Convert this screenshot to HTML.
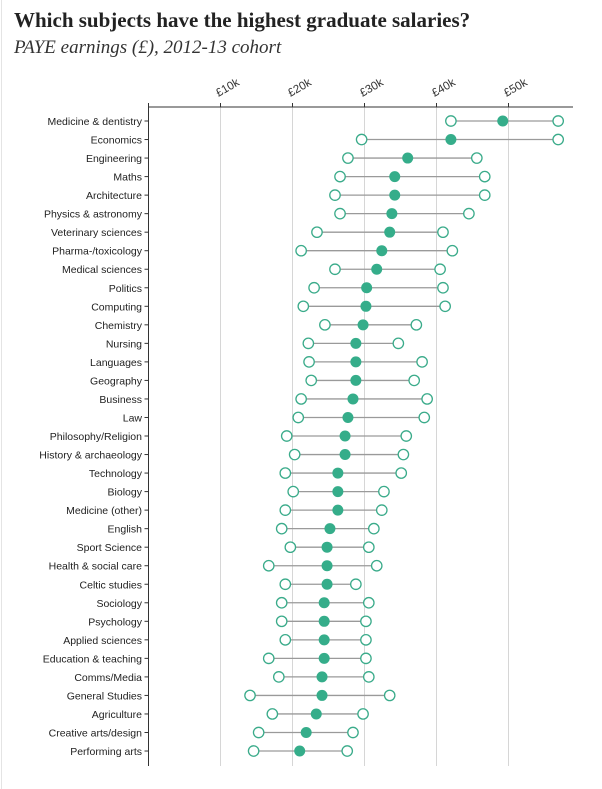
<!DOCTYPE html>
<html><head><meta charset="utf-8"><style>
body{margin:0;background:#fff;width:602px;height:789px;overflow:hidden;}
svg{display:block;}
</style></head><body>
<svg width="602" height="789" xmlns="http://www.w3.org/2000/svg">
<rect x="0" y="0" width="602" height="789" fill="#fff"/>
<line x1="1.5" y1="0" x2="1.5" y2="789" stroke="#e4e4e4"/>
<text x="14" y="27" font-family="Liberation Serif, serif" font-weight="bold" font-size="21" fill="#222">Which subjects have the highest graduate salaries?</text>
<text x="14" y="53" font-family="Liberation Serif, serif" font-style="italic" font-size="19" fill="#333">PAYE earnings (£), 2012-13 cohort</text>
<g id="plot"></g>
</svg>
<script>
const categories=["Medicine & dentistry","Economics","Engineering","Maths","Architecture","Physics & astronomy","Veterinary sciences","Pharma-/toxicology","Medical sciences","Politics","Computing","Chemistry","Nursing","Languages","Geography","Business","Law","Philosophy/Religion","History & archaeology","Technology","Biology","Medicine (other)","English","Sport Science","Health & social care","Celtic studies","Sociology","Psychology","Applied sciences","Education & teaching","Comms/Media","General Studies","Agriculture","Creative arts/design","Performing arts"];
const lowValues=[42,29.6,27.7,26.6,25.9,26.6,23.4,21.2,25.9,23,21.5,24.5,22.2,22.3,22.6,21.2,20.8,19.2,20.3,19,20.1,19,18.5,19.7,16.7,19,18.5,18.5,19,16.7,18.1,14.1,17.2,15.3,14.6];
const medianValues=[49.2,42,36,34.2,34.2,33.8,33.5,32.4,31.7,30.3,30.2,29.8,28.8,28.8,28.8,28.4,27.7,27.3,27.3,26.3,26.3,26.3,25.2,24.8,24.8,24.8,24.4,24.4,24.4,24.4,24.1,24.1,23.3,21.9,21];
const highValues=[56.9,56.9,45.6,46.7,46.7,44.5,40.9,42.2,40.5,40.9,41.2,37.2,34.7,38,36.9,38.7,38.3,35.8,35.4,35.1,32.7,32.4,31.3,30.6,31.7,28.8,30.6,30.2,30.2,30.2,30.6,33.5,29.8,28.4,27.6];
const tickValues=[10,20,30,40,50];
const tickLabels=["£10k","£20k","£30k","£40k","£50k"];

const NS="http://www.w3.org/2000/svg";
const g=document.getElementById('plot');
const x=v=>148.5+v*7.2;
const y=i=>121+i*18.53;
const axisY=107, bottomY=766;
function mk(t,a){const e=document.createElementNS(NS,t);for(const k in a)e.setAttribute(k,a[k]);g.appendChild(e);return e;}
tickValues.forEach((v,i)=>{
 const l=mk('line',{x1:x(v),x2:x(v),y1:axisY,y2:bottomY,stroke:'#d6d6d6','stroke-width':1});
 
 
 const t=mk('text',{x:x(v)-2,y:axisY-10,'font-family':'Liberation Sans, sans-serif','font-size':11.5,fill:'#333',transform:`rotate(-30 ${x(v)-2} ${axisY-10})`});
 t.textContent=tickLabels[i];
 
 
});
const ax=mk('line',{x1:148.5,x2:573,y1:axisY,y2:axisY,stroke:'#333','stroke-width':1});


mk('line',{x1:148.5,x2:148.5,y1:axisY-4,y2:axisY+4,stroke:'#333'});
tickValues.forEach(v=>mk('line',{x1:x(v),x2:x(v),y1:axisY-4,y2:axisY,stroke:'#333'}));
const ya=mk('line',{x1:148.5,x2:148.5,y1:axisY,y2:bottomY,stroke:'#333','stroke-width':1});


categories.forEach((c,i)=>{
 const yy=y(i);
 mk('line',{x1:144.5,x2:148.5,y1:yy,y2:yy,stroke:'#333'});
 const t=mk('text',{x:142,y:yy+4,'text-anchor':'end','font-family':'Liberation Sans, sans-serif','font-size':10.5,fill:'#222'});
 t.textContent=c;
 
 
 const r=mk('line',{x1:x(lowValues[i]),x2:x(highValues[i]),y1:yy,y2:yy,stroke:'#9a9a9a','stroke-width':1.3});
 
 
 const lo=mk('circle',{cx:x(lowValues[i]),cy:yy,r:5.2,fill:'#fff',stroke:'#3aab8a','stroke-width':1.3});
 
 
 const hi=mk('circle',{cx:x(highValues[i]),cy:yy,r:5.2,fill:'#fff',stroke:'#3aab8a','stroke-width':1.3});
 
 
 const md=mk('circle',{cx:x(medianValues[i]),cy:yy,r:5.5,fill:'#35ad8a'});
 
 
});
</script>
</body></html>
